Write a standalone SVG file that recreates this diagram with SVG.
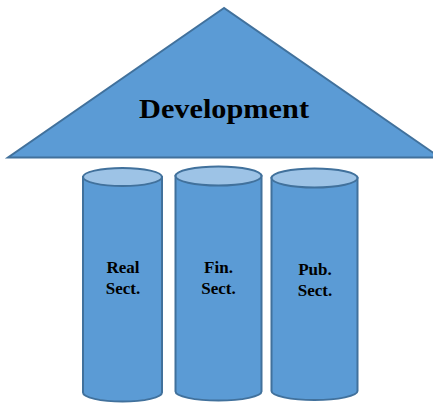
<svg xmlns="http://www.w3.org/2000/svg" width="433" height="403" viewBox="0 0 433 403">
<style>
.body{fill:#5B9BD5;stroke:#41719C;stroke-width:2}
.top{fill:#9DC3E6;stroke:#41719C;stroke-width:2}
.lbl{font-family:"Liberation Serif",serif;font-weight:bold;fill:#000;text-anchor:middle}
.sm{font-size:17px}
</style>
<rect width="433" height="403" fill="#fff"/>
<g id="roof">
<polygon class="body" points="224,8 8,157.5 440,157.5"/>
<text class="lbl" x="224" y="118" font-size="27" textLength="170" lengthAdjust="spacingAndGlyphs">Development</text>
</g>
<g id="pillar-real">
<path class="body" d="M83,177 V392.5 A39.5,9 0 0 0 162,392.5 V177 Z"/>
<ellipse class="top" cx="122.5" cy="177" rx="39.5" ry="9"/>
<text class="lbl sm"><tspan x="123" y="273">Real</tspan><tspan x="123" y="294">Sect.</tspan></text>
</g>
<g id="pillar-fin">
<path class="body" d="M175.5,176 V391.5 A43,9 0 0 0 261.5,391.5 V176 Z"/>
<ellipse class="top" cx="218.5" cy="176" rx="43" ry="9.5"/>
<text class="lbl sm"><tspan x="218.5" y="273">Fin.</tspan><tspan x="218.5" y="294">Sect.</tspan></text>
</g>
<g id="pillar-pub">
<path class="body" d="M271.5,178 V391 A43,9 0 0 0 357.5,391 V178 Z"/>
<ellipse class="top" cx="314.5" cy="178" rx="43" ry="9.5"/>
<text class="lbl sm"><tspan x="315" y="275">Pub.</tspan><tspan x="315" y="296">Sect.</tspan></text>
</g>
<g id="connectors"></g>
</svg>
